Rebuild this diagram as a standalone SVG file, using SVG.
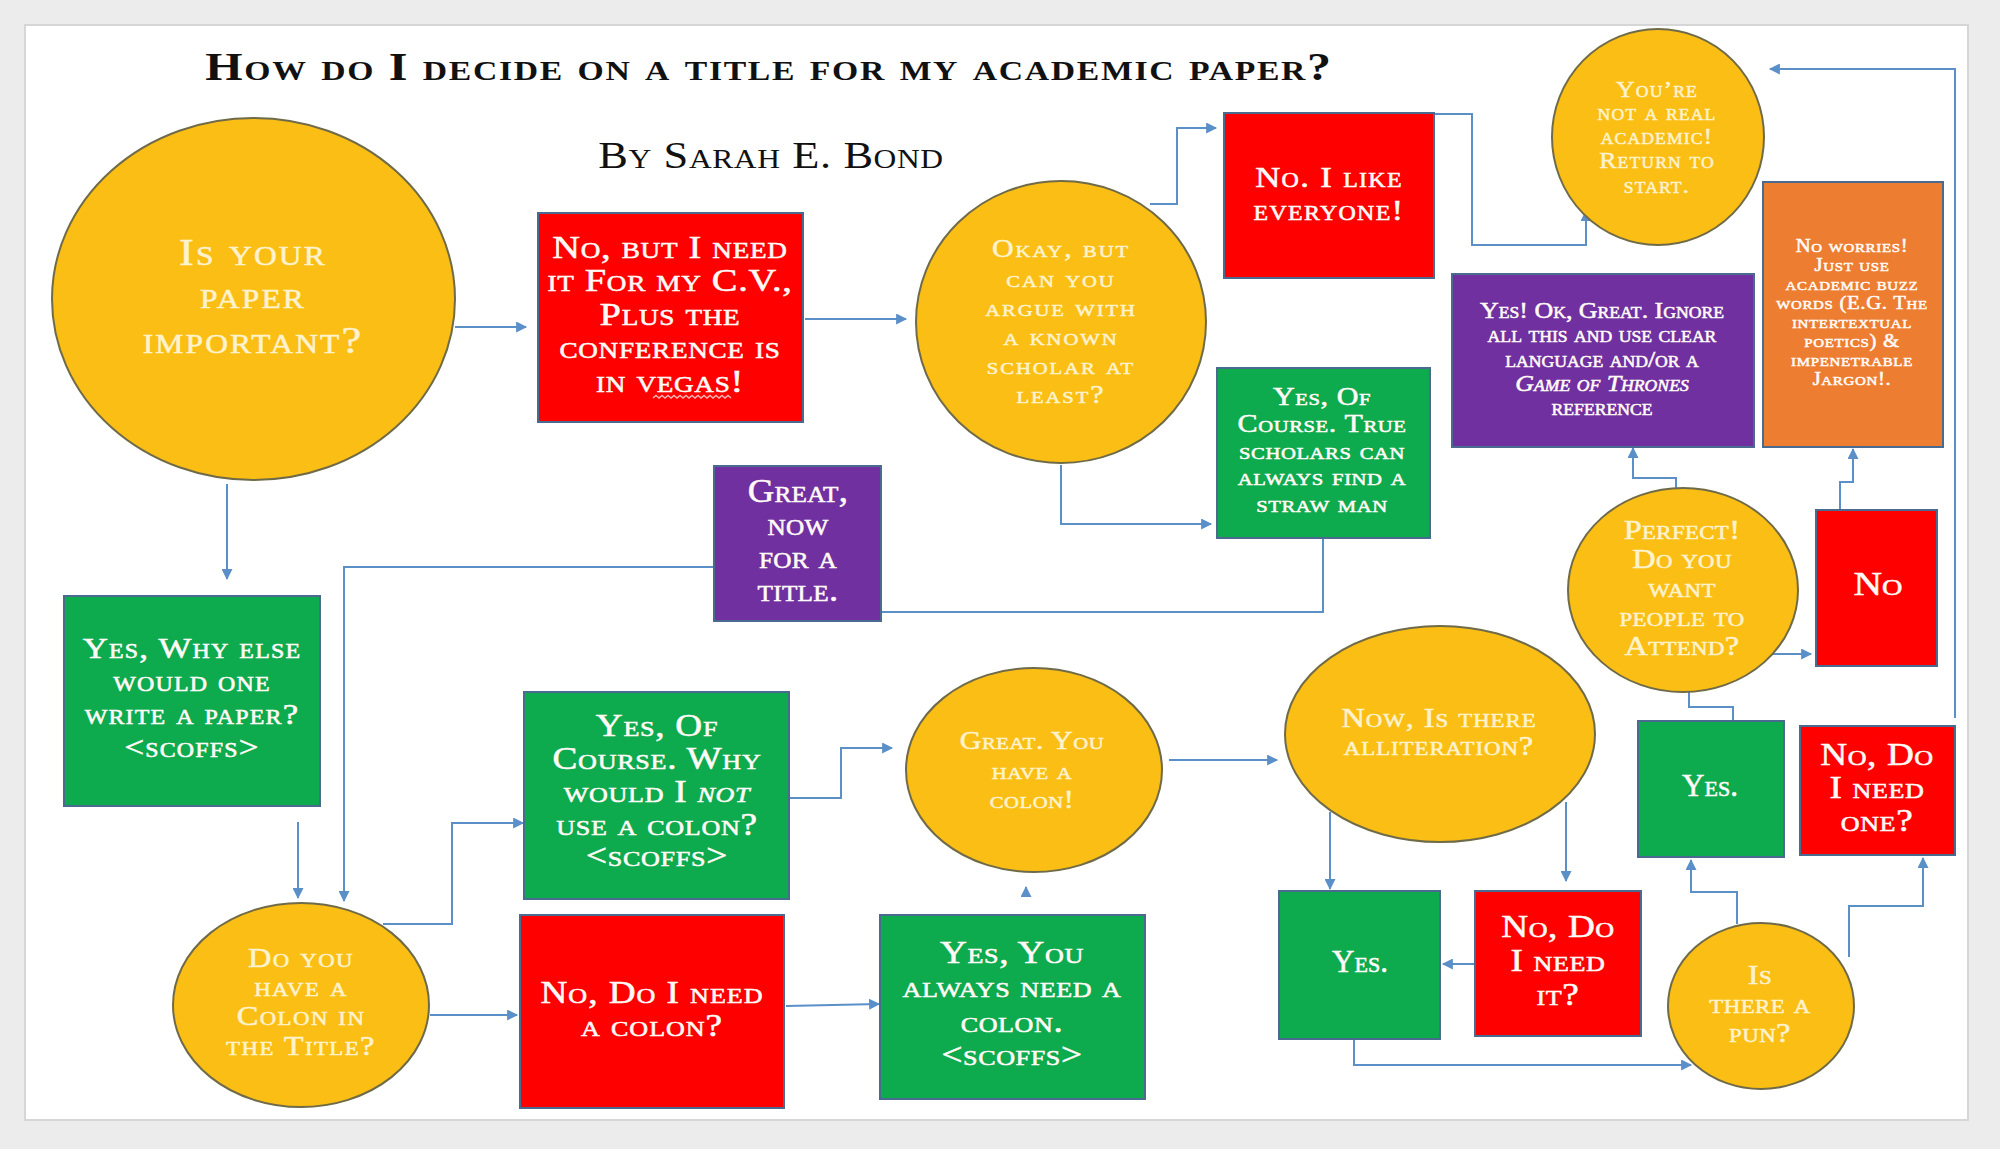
<svg xmlns="http://www.w3.org/2000/svg" width="2000" height="1149" viewBox="0 0 2000 1149">
<defs>
<style>
.lbl{font-family:"Liberation Serif","Times New Roman",serif;font-variant:small-caps;text-anchor:middle}
.cc{fill:#FFF2CC;stroke:#FFF2CC;stroke-width:0.55}
.bc{fill:#FFFAF6;stroke:#FFFAF6;stroke-width:0.55}
.circ{fill:#FABE14;stroke:#6F6A48;stroke-width:2}
.box{stroke:#4A6A90;stroke-width:2}
.red{fill:#FF0000}
.grn{fill:#0EAA4E}
.pur{fill:#7030A0}
.org{fill:#ED7D31}
.conn path{fill:none;stroke:#5B8FC8;stroke-width:2;marker-end:url(#ah)}
.it{font-style:italic}
.head{font-family:"Liberation Serif","Times New Roman",serif;font-variant:small-caps;text-anchor:middle;fill:#111}
</style>
<marker id="ah" viewBox="0 0 10 10" refX="9" refY="5" markerWidth="12" markerHeight="11" markerUnits="userSpaceOnUse" orient="auto">
<path d="M0,0 L10,5 L0,10 z" fill="#5B8FC8"/>
</marker>
</defs>
<rect x="0" y="0" width="2000" height="1149" fill="#ECECEC"/>
<rect x="25" y="25" width="1943" height="1095" fill="#FFFFFF" stroke="#D6D6D6" stroke-width="2"/>

<g id="title">
<text class="head" transform="matrix(1.2 0 0 1 769 0)" x="0" y="80" font-size="40" font-weight="bold" letter-spacing="1.4">How do I decide on a title for my academic paper?</text>
<text class="head" transform="matrix(1.2 0 0 1 771 0)" x="0" y="168" font-size="37" letter-spacing="0.5">By Sarah E. Bond</text>
</g>

<g id="connectors" class="conn">
<path d="M455,327 H526"/>
<path d="M227,484 V579"/>
<path d="M805,319 H906"/>
<path d="M1150,204 H1177 V128 H1216"/>
<path d="M1389,114 H1472 V245 H1586 V211"/>
<path d="M1061,465 V524 H1211"/>
<path d="M1323,538 V612 H834"/>
<path d="M714,567 H344 V901"/>
<path d="M298,822 V898"/>
<path d="M383,924 H452 V823 H523"/>
<path d="M430,1015 H517"/>
<path d="M786,1006 L879,1004"/>
<path d="M1026,892 V887"/>
<path d="M790,798 H841 V748 H892"/>
<path d="M1169,760 H1277"/>
<path d="M1330,812 V889"/>
<path d="M1566,802 V881"/>
<path d="M1475,964 H1443"/>
<path d="M1354,1039 V1065 H1691"/>
<path d="M1737,924 V892 H1691 V860"/>
<path d="M1849,957 V906 H1923 V858"/>
<path d="M1733,740 V707 H1689 V677"/>
<path d="M1770,654 H1811"/>
<path d="M1676,490 V478 H1633 V448"/>
<path d="M1840,510 V482 H1853 V449"/>
<path d="M1955,718 V69 H1770"/>
</g>

<g id="n-important">
<ellipse class="circ" cx="253.5" cy="299" rx="201.5" ry="181"/>
<text class="lbl cc" transform="matrix(1.2 0 0 1 253 0)" font-size="37" letter-spacing="1.8"><tspan x="0" y="265">Is your</tspan><tspan x="0" y="308">paper</tspan><tspan x="0" y="353">important?</tspan></text>
</g>

<g id="n-cv">
<rect class="box red" x="538" y="213" width="265" height="209"/>
<text class="lbl bc" transform="matrix(1.2 0 0 1 670 0)" font-size="32" letter-spacing="0.6"><tspan x="0" y="258">No, but I need</tspan><tspan x="0" y="291">it For my C.V.,</tspan><tspan x="0" y="325">Plus the</tspan><tspan x="0" y="358">conference is</tspan><tspan x="0" y="392">in vegas!</tspan></text>
<path d="M653,398 l3,-2.5 l3,2.5 l3,-2.5 l3,2.5 l3,-2.5 l3,2.5 l3,-2.5 l3,2.5 l3,-2.5 l3,2.5 l3,-2.5 l3,2.5 l3,-2.5 l3,2.5 l3,-2.5 l3,2.5 l3,-2.5 l3,2.5 l3,-2.5 l3,2.5 l3,-2.5 l3,2.5 l3,-2.5 l3,2.5 l3,-2.5 l3,2.5" fill="none" stroke="#F7B5B5" stroke-width="1.4"/>
</g>

<g id="n-okay">
<ellipse class="circ" cx="1061" cy="322" rx="145" ry="141"/>
<text class="lbl cc" transform="matrix(1.2 0 0 1 1061 0)" font-size="25" letter-spacing="1.6"><tspan x="0" y="257">Okay, but</tspan><tspan x="0" y="287">can you</tspan><tspan x="0" y="316">argue with</tspan><tspan x="0" y="345">a known</tspan><tspan x="0" y="374">scholar at</tspan><tspan x="0" y="403">least?</tspan></text>
</g>

<g id="n-likeeveryone">
<rect class="box red" x="1224" y="113" width="210" height="165"/>
<text class="lbl bc" transform="matrix(1.2 0 0 1 1329 0)" font-size="29" letter-spacing="1.1"><tspan x="0" y="187">No. I like</tspan><tspan x="0" y="220">everyone!</tspan></text>
</g>

<g id="n-notreal">
<ellipse class="circ" cx="1658" cy="137" rx="106" ry="108"/>
<text class="lbl cc" transform="matrix(1.08 0 0 1 1657 0)" font-size="24" letter-spacing="1"><tspan x="0" y="97">You’re</tspan><tspan x="0" y="120">not a real</tspan><tspan x="0" y="144">academic!</tspan><tspan x="0" y="168">Return to</tspan><tspan x="0" y="193">start.</tspan></text>
</g>

<g id="n-noworries">
<rect class="box org" x="1763" y="182" width="180" height="265"/>
<text class="lbl bc" transform="matrix(1.15 0 0 1 1852 0)" font-size="18" letter-spacing="0.6"><tspan x="0" y="252">No worries!</tspan><tspan x="0" y="271">Just use</tspan><tspan x="0" y="290">academic buzz</tspan><tspan x="0" y="309">words (E.G. The</tspan><tspan x="0" y="328">intertextual</tspan><tspan x="0" y="347">poetics) &amp;</tspan><tspan x="0" y="366">impenetrable</tspan><tspan x="0" y="385">Jargon!.</tspan></text>
</g>

<g id="n-clear">
<rect class="box pur" x="1452" y="274" width="302" height="173"/>
<text class="lbl bc" transform="matrix(1.08 0 0 1 1602 0)" font-size="24" letter-spacing="0"><tspan x="0" y="318">Yes! Ok, Great. Ignore</tspan><tspan x="0" y="342">all this and use clear</tspan><tspan x="0" y="367">language and/or a</tspan><tspan x="0" y="391" class="it">Game of Thrones</tspan><tspan x="0" y="415">reference</tspan></text>
</g>

<g id="n-strawman">
<rect class="box grn" x="1217" y="368" width="213" height="170"/>
<text class="lbl bc" transform="matrix(1.2 0 0 1 1322 0)" font-size="25" letter-spacing="0.5"><tspan x="0" y="405">Yes, Of</tspan><tspan x="0" y="432">Course. True</tspan><tspan x="0" y="459">scholars can</tspan><tspan x="0" y="485">always find a</tspan><tspan x="0" y="512">straw man</tspan></text>
</g>

<g id="n-nowtitle">
<rect class="box pur" x="714" y="466" width="167" height="155"/>
<text class="lbl bc" transform="matrix(1.11 0 0 1 798 0)" font-size="33" letter-spacing="0.3"><tspan x="0" y="502">Great,</tspan><tspan x="0" y="535">now</tspan><tspan x="0" y="568">for a</tspan><tspan x="0" y="601">title.</tspan></text>
</g>

<g id="n-whyelse">
<rect class="box grn" x="64" y="596" width="256" height="210"/>
<text class="lbl bc" transform="matrix(1.2 0 0 1 192 0)" font-size="29" letter-spacing="1"><tspan x="0" y="658">Yes, Why else</tspan><tspan x="0" y="691">would one</tspan><tspan x="0" y="724">write a paper?</tspan><tspan x="0" y="757">&lt;scoffs&gt;</tspan></text>
</g>

<g id="n-colonq">
<ellipse class="circ" cx="301" cy="1005" rx="128" ry="102"/>
<text class="lbl cc" transform="matrix(1.2 0 0 1 301 0)" font-size="27" letter-spacing="1.2"><tspan x="0" y="967">Do you</tspan><tspan x="0" y="996">have a</tspan><tspan x="0" y="1025">Colon in</tspan><tspan x="0" y="1055">the Title?</tspan></text>
</g>

<g id="n-whynot">
<rect class="box grn" x="524" y="692" width="265" height="207"/>
<text class="lbl bc" transform="matrix(1.2 0 0 1 657 0)" font-size="31" letter-spacing="0.6"><tspan x="0" y="736">Yes, Of</tspan><tspan x="0" y="769">Course. Why</tspan><tspan x="0" y="802">would I <tspan class="it">not</tspan></tspan><tspan x="0" y="835">use a colon?</tspan><tspan x="0" y="866">&lt;scoffs&gt;</tspan></text>
</g>

<g id="n-needcolon">
<rect class="box red" x="520" y="915" width="264" height="193"/>
<text class="lbl bc" transform="matrix(1.2 0 0 1 652 0)" font-size="31" letter-spacing="0.8"><tspan x="0" y="1003">No, Do I need</tspan><tspan x="0" y="1036">a colon?</tspan></text>
</g>

<g id="n-alwaysneed">
<rect class="box grn" x="880" y="915" width="265" height="184"/>
<text class="lbl bc" transform="matrix(1.2 0 0 1 1012 0)" font-size="31" letter-spacing="0.5"><tspan x="0" y="963">Yes, You</tspan><tspan x="0" y="997">always need a</tspan><tspan x="0" y="1032">colon.</tspan><tspan x="0" y="1065">&lt;scoffs&gt;</tspan></text>
</g>

<g id="n-havecolon">
<ellipse class="circ" cx="1034" cy="770" rx="128" ry="102"/>
<text class="lbl cc" transform="matrix(1.2 0 0 1 1032 0)" font-size="25" letter-spacing="0.5"><tspan x="0" y="749">Great. You</tspan><tspan x="0" y="779">have a</tspan><tspan x="0" y="808">colon!</tspan></text>
</g>

<g id="n-alliteration">
<ellipse class="circ" cx="1440" cy="734" rx="155" ry="108"/>
<text class="lbl cc" transform="matrix(1.2 0 0 1 1439 0)" font-size="27" letter-spacing="0.8"><tspan x="0" y="727">Now, Is there</tspan><tspan x="0" y="755">alliteration?</tspan></text>
</g>

<g id="n-yes-allit">
<rect class="box grn" x="1279" y="891" width="161" height="148"/>
<text class="lbl bc" font-size="31"><tspan x="1360" y="972">Yes.</tspan></text>
</g>

<g id="n-needit">
<rect class="box red" x="1475" y="891" width="166" height="145"/>
<text class="lbl bc" transform="matrix(1.2 0 0 1 1558 0)" font-size="31" letter-spacing="0.5"><tspan x="0" y="937">No, Do</tspan><tspan x="0" y="971">I need</tspan><tspan x="0" y="1005">it?</tspan></text>
</g>

<g id="n-pun">
<ellipse class="circ" cx="1761" cy="1006" rx="93" ry="83"/>
<text class="lbl cc" transform="matrix(1.2 0 0 1 1760 0)" font-size="27" letter-spacing="0.4"><tspan x="0" y="984">Is</tspan><tspan x="0" y="1013">there a</tspan><tspan x="0" y="1042">pun?</tspan></text>
</g>

<g id="n-yes-pun">
<rect class="box grn" x="1638" y="721" width="146" height="136"/>
<text class="lbl bc" font-size="31"><tspan x="1710" y="796">Yes.</tspan></text>
</g>

<g id="n-needone">
<rect class="box red" x="1800" y="726" width="155" height="129"/>
<text class="lbl bc" transform="matrix(1.2 0 0 1 1877 0)" font-size="31" letter-spacing="0.5"><tspan x="0" y="765">No, Do</tspan><tspan x="0" y="798">I need</tspan><tspan x="0" y="831">one?</tspan></text>
</g>

<g id="n-attend">
<ellipse class="circ" cx="1683" cy="590" rx="115" ry="102"/>
<text class="lbl cc" transform="matrix(1.2 0 0 1 1682 0)" font-size="27" letter-spacing="0.3"><tspan x="0" y="539">Perfect!</tspan><tspan x="0" y="568">Do you</tspan><tspan x="0" y="597">want</tspan><tspan x="0" y="626">people to</tspan><tspan x="0" y="655">Attend?</tspan></text>
</g>

<g id="n-no">
<rect class="box red" x="1816" y="510" width="121" height="156"/>
<text class="lbl bc" transform="matrix(1.2 0 0 1 1878 0)" font-size="33"><tspan x="0" y="595">No</tspan></text>
</g>
</svg>
